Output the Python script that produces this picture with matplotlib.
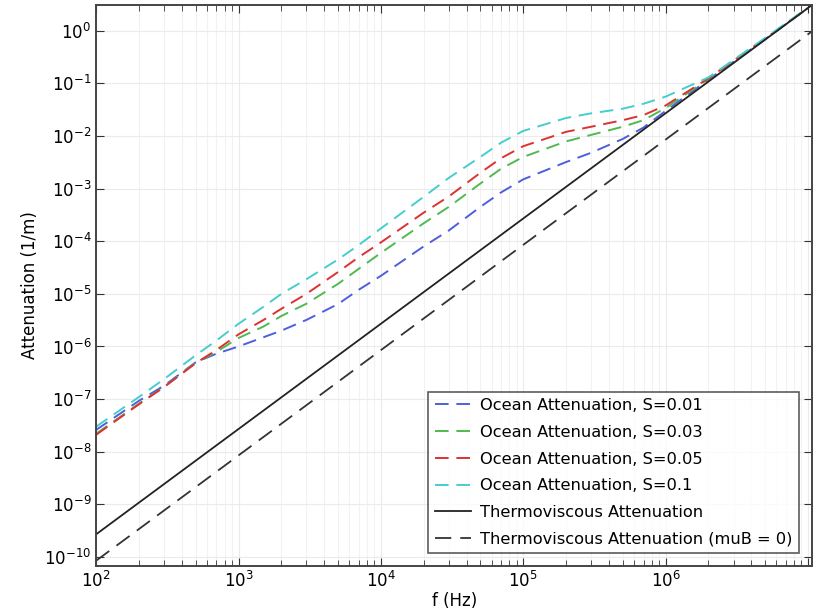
import numpy as np
import matplotlib
matplotlib.use("Agg")
import matplotlib.pyplot as plt
from matplotlib.ticker import LogLocator, NullLocator

# values (frequency in Hz, attenuation in 1/m)
freq = [1e2, 2e2, 3e2, 5e2, 7e2, 1e3, 1.5e3, 2e3, 3e3, 5e3, 7e3, 1e4, 2e4, 3e4, 5e4, 7e4,
        1e5, 2e5, 3e5, 5e5, 7e5, 1e6, 2e6, 5e6, 1e7]

ocean_s001 = [2.6e-8, 9.3e-8, 1.8e-7, 5.0e-7, 7.3e-7, 1.0e-6, 1.5e-6, 2.0e-6, 3.2e-6, 6.4e-6,
              1.2e-5, 2.2e-5, 8.0e-5, 1.6e-4, 4.5e-4, 8.5e-4,
              1.5e-3, 3.2e-3, 4.8e-3, 8.8e-3, 1.45e-2, 3.0e-2, 0.118, 0.69, 2.7]
ocean_s003 = [2.2e-8, 8.2e-8, 1.7e-7, 4.9e-7, 7.9e-7, 1.45e-6, 2.4e-6, 3.8e-6, 6.5e-6, 1.55e-5,
              3.0e-5, 6.0e-5, 2.2e-4, 4.5e-4, 1.25e-3, 2.4e-3,
              4.0e-3, 7.9e-3, 1.05e-2, 1.5e-2, 2.0e-2, 3.4e-2, 0.122, 0.70, 2.7]
ocean_s005 = [2.1e-8, 8.0e-8, 1.7e-7, 4.8e-7, 8.6e-7, 1.7e-6, 3.2e-6, 5.2e-6, 1.0e-5, 2.6e-5,
              5.0e-5, 9.5e-5, 3.5e-4, 7.1e-4, 2.0e-3, 3.8e-3,
              6.4e-3, 1.2e-2, 1.5e-2, 2.0e-2, 2.5e-2, 3.8e-2, 0.125, 0.71, 2.7]
ocean_s01 = [3.0e-8, 1.1e-7, 2.4e-7, 6.8e-7, 1.3e-6, 2.7e-6, 5.7e-6, 1.0e-5, 1.9e-5, 4.5e-5,
             8.5e-5, 1.75e-4, 7.0e-4, 1.6e-3, 4.0e-3, 7.5e-3,
             1.25e-2, 2.2e-2, 2.7e-2, 3.3e-2, 4.1e-2, 5.6e-2, 0.13, 0.73, 2.75]

tv_freq = [1e2, 1.07e7]
thermo = [2.7e-10, 3.1]
thermo_mub0 = [8.5e-11, 0.98]

labels = ["Ocean Attenuation, S=0.01", "Ocean Attenuation, S=0.03",
          "Ocean Attenuation, S=0.05", "Ocean Attenuation, S=0.1",
          "Thermoviscous Attenuation", "Thermoviscous Attenuation (muB = 0)"]
colors = ["#4f5fdc", "#50b950", "#dc3232", "#46cdcd"]

fig = plt.figure(figsize=(8.22, 6.14), dpi=100)
ax = fig.add_axes([0.117, 0.078, 0.871, 0.914])

for ys, c, lab in zip([ocean_s001, ocean_s003, ocean_s005, ocean_s01], colors, labels[:4]):
    ax.plot(freq, ys, color=c, lw=1.4, linestyle=(0, (7, 4)), label=lab)
ax.plot(tv_freq, thermo, color="#222222", lw=1.3, label=labels[4])
ax.plot(tv_freq, thermo_mub0, color="#333333", lw=1.3, linestyle=(0, (9, 5)), label=labels[5])

ax.set_xscale("log")
ax.set_yscale("log")
ax.set_xlim(1e2, 1.07e7)
ax.set_ylim(6.7e-11, 3.1)

ax.set_xticks([1e2, 1e3, 1e4, 1e5, 1e6, 1e7],
              ["$10^{2}$", "$10^{3}$", "$10^{4}$", "$10^{5}$", "$10^{6}$", ""])
ax.yaxis.set_major_locator(LogLocator(base=10, numticks=20))
ax.yaxis.set_minor_locator(NullLocator())
ax.xaxis.set_minor_locator(LogLocator(base=10, subs=np.arange(2, 10), numticks=20))

ax.grid(True, which="major", color="#ebebeb", lw=0.8)
ax.grid(True, which="minor", axis="x", color="#f2f2f2", lw=0.8)
ax.set_axisbelow(True)

ax.tick_params(which="both", direction="in", top=True, right=True,
               labelsize=12, color="#333333")
ax.tick_params(which="major", length=6)
ax.tick_params(which="minor", length=4)
for s in ax.spines.values():
    s.set_color("#444444")
    s.set_linewidth(1.4)

ax.set_xlabel("f (Hz)", fontsize=12, labelpad=1)
ax.set_ylabel("Attenuation (1/m)", fontsize=12)

leg = ax.legend(loc="lower right", fontsize=11.7, frameon=True, fancybox=False,
                borderaxespad=0.8, handlelength=2.2, handletextpad=0.6,
                labelspacing=0.72)
leg.get_frame().set_edgecolor("#333333")
leg.get_frame().set_linewidth(1.2)

fig.savefig("out.png", dpi=100)
